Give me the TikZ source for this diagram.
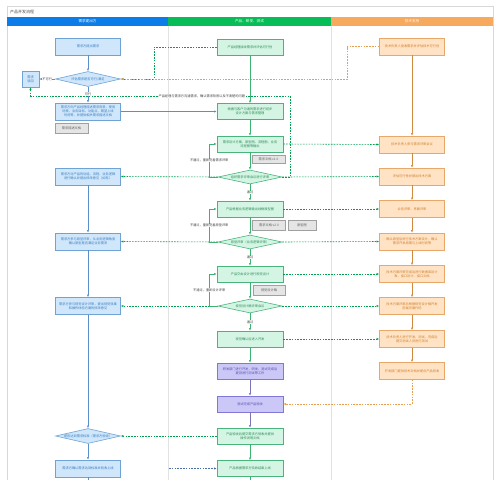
\documentclass[tikz,border=0pt]{standalone}
\usepackage{fontspec}
\newfontfamily\cjk{Noto Sans CJK SC}
\usetikzlibrary{shapes.geometric,arrows.meta,calc}
\definecolor{hB}{HTML}{0B7CE8}
\definecolor{hG}{HTML}{07BD57}
\definecolor{hO}{HTML}{F7A95E}
\definecolor{bF}{HTML}{CFE6FB}
\definecolor{bB}{HTML}{6FA3D6}
\definecolor{bT}{HTML}{3C7FC0}
\definecolor{gF}{HTML}{D4F5E4}
\definecolor{gB}{HTML}{49B57D}
\definecolor{gT}{HTML}{2E8B57}
\definecolor{oF}{HTML}{FFE3C4}
\definecolor{oB}{HTML}{E8A86A}
\definecolor{oT}{HTML}{D08030}
\definecolor{pF}{HTML}{CBC8F7}
\definecolor{pB}{HTML}{8277D6}
\definecolor{pT}{HTML}{5B50B0}
\definecolor{grF}{HTML}{E5E5E5}
\definecolor{grB}{HTML}{A0A0A0}
\definecolor{grT}{HTML}{606060}
\definecolor{frameC}{HTML}{D8D8D8}
\definecolor{laneC}{HTML}{E2E2E2}
\definecolor{bL}{HTML}{5B8FC9}
\definecolor{gL}{HTML}{3CB371}
\definecolor{oL}{HTML}{D08A40}
\definecolor{pL}{HTML}{7A74B8}
\definecolor{gD}{HTML}{00A050}
\definecolor{oD}{HTML}{E8A050}
\definecolor{bD}{HTML}{4A6FA8}
\begin{document}
\begin{tikzpicture}[x=1pt,y=-1pt,
 base/.style={font=\cjk\fontsize{3.2}{4}\selectfont, align=center, inner sep=0.5pt, line width=0.6pt},
 bbox/.style={base, rectangle, draw=bB, fill=bF, text=bT, minimum width=65pt, minimum height=17pt},
 gbox/.style={base, rectangle, draw=gB, fill=gF, text=gT, minimum width=66pt, minimum height=16pt},
 obox/.style={base, rectangle, draw=oB, fill=oF, text=oT, minimum width=65pt, minimum height=17pt},
 pbox/.style={base, rectangle, draw=pB, fill=pF, text=pT, minimum width=66pt, minimum height=16pt},
 graybox/.style={base, rectangle, draw=grB, fill=grF, text=grT, minimum width=33pt, minimum height=9pt},
 bdia/.style={base, diamond, aspect=4.3, inner sep=0pt, draw=bB, fill=bF, text=bT, minimum width=65pt, minimum height=15pt},
 gdia/.style={base, diamond, aspect=4.3, inner sep=0pt, draw=gB, fill=gF, text=gT, minimum width=64pt, minimum height=14pt},
 lanehead/.style={font=\cjk\fontsize{3.6}{4}\selectfont, text=white, inner sep=0pt, minimum height=9pt},
 tip/.style={-{Latex[length=2.6pt,width=2.2pt]}},
 bline/.style={draw=bL, line width=0.6pt, tip},
 gline/.style={draw=gL, line width=0.6pt, tip},
 oline/.style={draw=oL, line width=0.6pt, tip},
 pline/.style={draw=pL, line width=0.6pt, tip},
 gdash/.style={draw=gD, line width=0.6pt, dash pattern=on 1.6pt off 1.2pt, tip},
 odash/.style={draw=oD, line width=0.6pt, dash pattern=on 1.6pt off 1.2pt, tip},
 bdash/.style={draw=bD, line width=0.6pt, dash pattern=on 1.6pt off 1.2pt, tip},
 lbl/.style={font=\cjk\fontsize{3.2}{4}\selectfont, fill=white, inner sep=0.4pt, text=black!75}
]
\useasboundingbox (0,0) rectangle (500,479);
\fill[white] (0,0) rectangle (500,479);

% frame, title and lanes
\draw[frameC, line width=0.7pt] (7,6) rectangle (493,484);
\node[anchor=west, font=\cjk\fontsize{4}{5}\selectfont, text=black!70, inner sep=0pt] (title) at (10,12) {产品开发流程};
\node[lanehead, fill=hB, minimum width=161pt] (hb) at (87.5,21.5) {需求提出方};
\node[lanehead, fill=hG, minimum width=163pt] (hg) at (249.5,21.5) {产品、研发、测试};
\node[lanehead, fill=hO, minimum width=162pt] (ho) at (412,21.5) {技术支持};
\draw[laneC, line width=0.8pt] (hb.south east) -- ++(0,458);
\draw[laneC, line width=0.8pt] (hg.south east) -- ++(0,458);

% left lane
\node[bbox] (B1) at (88,46.5) {需求方提出需求};
\node[bdia] (D1) at (88,79) {评估需求是否可行/满足};
\node[bbox, minimum width=17pt, minimum height=16pt] (R) at (30.5,79) {需求\\驳回};
\node[bbox] (B2) at (88,111.5) {需求方向产品经理描述需求背景、使用\\场景、业务目标、功能点、期望上线\\时间等，并提供相关需求描述文档};
\node[graybox, minimum height=10pt] (GB1) at (71.5,128) {需求描述文档};
\node[bbox] (B3) at (88,176.5) {需求方对产品的功能、流程、业务逻辑\\进行确认并提出修改意见（如有）};
\node[bbox] (B4) at (88,241.5) {需求方参与原型评审，从业务逻辑角度\\确认原型是否满足业务需求};
\node[bbox] (B5) at (88,306) {需求方参与视觉设计评审，提出视觉效果\\和操作体验方面的修改意见};
\node[bdia] (D5) at (88,436) {是否达到需求标准（需求方验收）};
\node[bbox] (B6) at (88,468.5) {需求方确认需求达到标准并验收上线};
\coordinate (Bend) at (88,490);

% middle lane
\node[gbox] (G1) at (250,47) {产品经理接收需求并评估可行性};
\node[gbox] (G2) at (250,111.5) {根据与客户沟通的需求进行初步\\设计方案与需求整理};
\node[gbox] (G3) at (250,144) {需求设计方案，原型图、流程图、业务\\流程图等输出};
\node[graybox, minimum height=8pt] (GR1) at (268.5,159) {需求文档 v1.0};
\node[gdia] (D2) at (250,177) {组织需求评审会议进行评审};
\node[gbox] (G4) at (250,209) {产品根据业务逻辑输出线框原型图};
\node[graybox, minimum height=10pt] (GR2) at (269,225) {需求文档 v2.0};
\node[graybox, minimum width=28pt, minimum height=10pt] (GR3) at (302,225) {原型图};
\node[gdia] (D3) at (250,242) {原型评审（业务逻辑评审）};
\node[gbox] (G5) at (250,274) {产品交由设计进行视觉设计};
\node[graybox, minimum width=32pt, minimum height=10pt] (GR4) at (269,290) {视觉设计稿};
\node[gdia] (D4) at (250,306) {视觉设计稿评审会议};
\node[gbox] (G6) at (250,339) {视觉确认后进入开发};
\node[pbox] (P1) at (250,371) {研发部门进行开发，研发、测试完成后\\提测进行测试等工作};
\node[pbox] (P2) at (250,404) {测试完成产品验收};
\node[gbox] (G7) at (250,436) {产品验收后提交需求方验收并提供\\操作说明文档};
\node[gbox] (G8) at (250,468.5) {产品根据需求方验收结果上线};
\coordinate (Gend) at (250,490);

% right lane
\node[obox] (O1) at (412,46.5) {技术负责人接收需求并评估技术可行性};
\node[obox] (O2) at (412,144.5) {技术负责人参与需求评审会议};
\node[obox] (O3) at (412,176.5) {评估可行性并提出技术方案};
\node[obox] (O4) at (412,209) {业务评审，界面评审};
\node[obox] (O5) at (412,241.5) {确认原型后进行技术方案设计，确认\\需求开发周期与上线时间等};
\node[obox] (O6) at (412,274) {技术方案评审完成后进行数据库设计\\表、接口设计、接口文档};
\node[obox] (O7) at (412,306) {技术方案评审后根据视觉设计稿开发\\前端页面代码};
\node[obox] (O8) at (412,339) {技术负责人进行开发，测试，完成后\\提交测试人员进行测试};
\node[obox] (O9) at (412,371) {开发部门提供技术文档并配合产品验收};

% helper coordinates
\coordinate (k1) at (290,96);
\coordinate (k2) at (347,79);
\coordinate (k3) at (169,468.5);

% dashed connectors (drawn first)
\draw[gdash] (G1.west) -| ([xshift=33pt]D1.east) -- (D1.east);
\draw[odash] (O1.west) -| (k2) -- (D1.east);
\draw[gdash] (D2.east) -| (k1) -- node[lbl, pos=0.34]{产品经理与需求方沟通需求，确认需求背景以及不清楚的问题} (k1 -| R.south) -- (R.south);
\draw[gdash] (G3.east) -- (O2.west);
\draw[gdash] (D2.west) -- (B3.east);
\draw[gdash] (D2.east) -- (O3.west);
\draw[gdash] (G4.east) -- (O4.west);
\draw[gdash] (D3.west) -- (B4.east);
\draw[gdash] (D3.east) -- (O5.west);
\draw[gdash] (G5.east) -- (O6.west);
\draw[gdash] (D4.west) -- (B5.east);
\draw[gdash] (D4.east) -- (O7.west);
\draw[gdash] (G6.east) -- (O8.west);
\draw[gdash] (G7.west) -- (D5.east);
\draw[odash] (O9.south) |- (P2.east);
\draw[bdash] (k3) -- (G8.west);

% blue solid
\draw[bline] (B1) -- (D1);
\draw[bline] (D1) -- node[lbl, pos=0.45]{可行} (B2);
\draw[bline] (D1.west) -- node[lbl]{不可行} (R.east);
\draw[bline] (B2.east) -- (G2.west);
\draw[bline] (B3) -- (B4);
\draw[bline] (B4) -- (B5);
\draw[bline] (B5) -- (D5);
\draw[bline] (D5) -- (B6);
\draw[bline] (B6) -- (Bend);

% green solid
\draw[gline] (G1) -- (G2);
\draw[gline] (G2) -- (G3);
\draw[gline] (G3) -- (D2);
\draw[gline] (D2) -- node[lbl]{通过} (G4);
\draw[gline] (G4) -- (D3);
\draw[gline] (D3) -- node[lbl]{通过} (G5);
\draw[gline] (G5) -- (D4);
\draw[gline] (D4) -- node[lbl]{通过} (G6);
\draw[gline] (G6) -- (P1);
\draw[pline] (P1) -- (P2);
\draw[pline] (P2) -- (G7);
\draw[gline] (G7) -- (G8);
\draw[gline] (G8) -- (Gend);
\draw[gline] (D2.west) -- ++(-8.5,0) |- node[lbl, pos=0.25]{不通过，重新完善需求评审} (G3.west);
\draw[gline] (D3.west) -- ++(-8.5,0) |- node[lbl, pos=0.25]{不通过，重新完善原型评审} (G4.west);
\draw[gline] (D4.west) -- ++(-8.5,0) |- node[lbl, pos=0.25]{不通过，重新设计评审} (G5.west);

% orange solid
\draw[oline] (O1) -- (O2);
\draw[oline] (O2) -- (O3);
\draw[oline] (O3) -- (O4);
\draw[oline] (O4) -- (O5);
\draw[oline] (O5) -- (O6);
\draw[oline] (O6) -- (O7);
\draw[oline] (O7) -- (O8);
\draw[oline] (O8) -- (O9);
\end{tikzpicture}
\end{document}
